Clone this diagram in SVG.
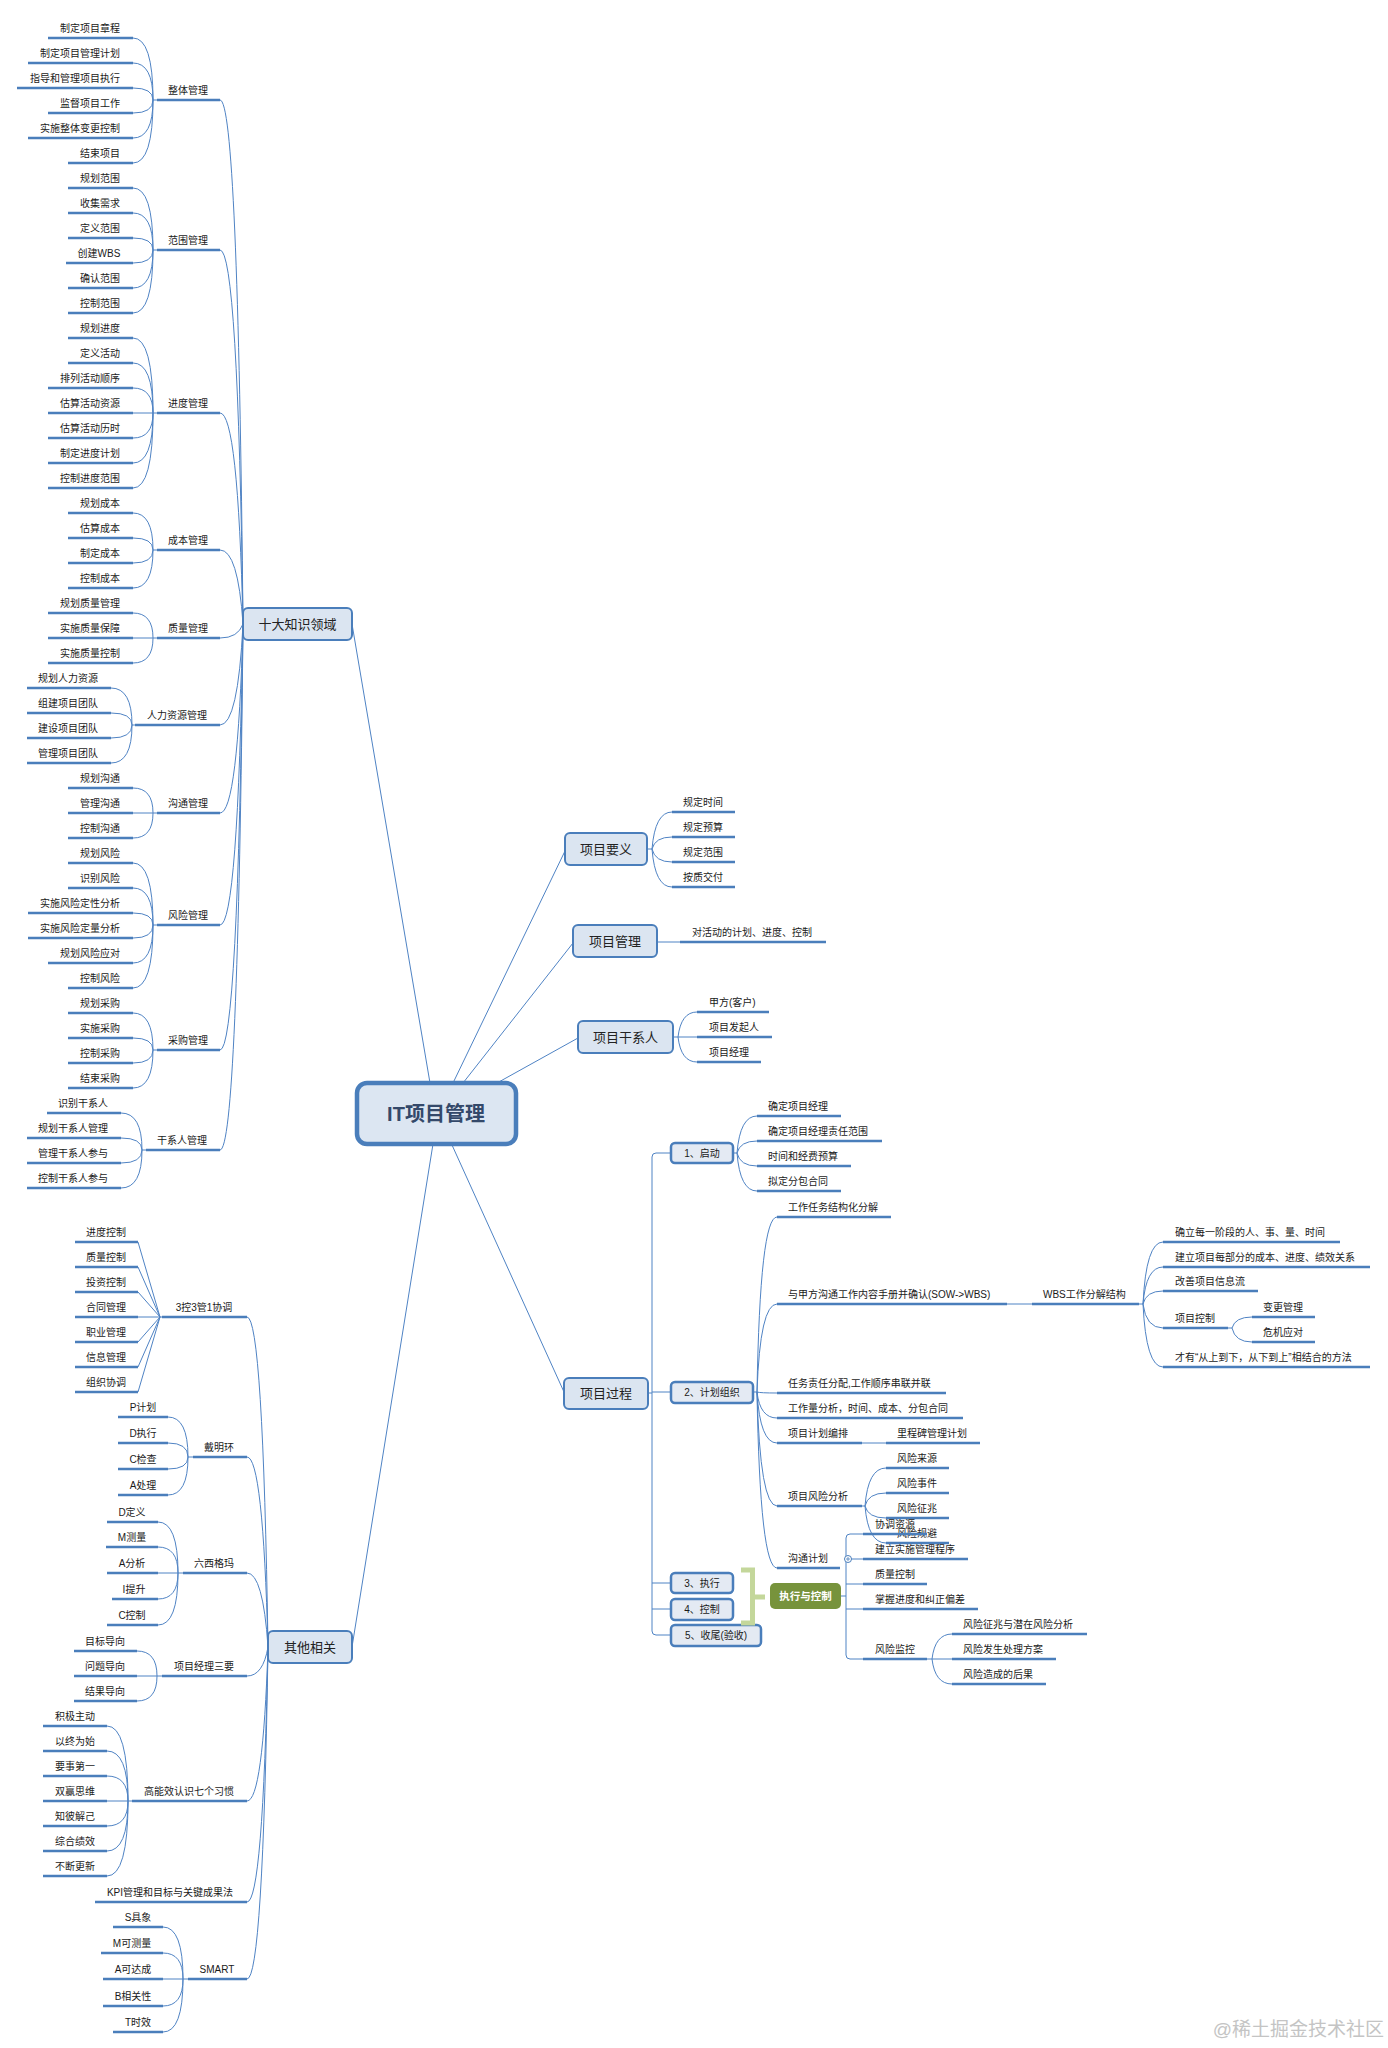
<svg xmlns="http://www.w3.org/2000/svg" width="1388" height="2048" viewBox="0 0 1388 2048">
<style>
.u{stroke:#4a7ebb;stroke-width:2.5;fill:none}
.c{stroke:#4f83c4;stroke-width:1;fill:none}
.t{font-family:"Liberation Sans","Noto Sans CJK SC",sans-serif;font-size:10px;fill:#1a1a1a}
.m{text-anchor:middle}
.bx{fill:#dbe5f1;stroke:#4a7ebb;stroke-width:2}
.sb{fill:#e4eaf3;stroke:#4a7ebb;stroke-width:2.5}
.bt{font-family:"Liberation Sans","Noto Sans CJK SC",sans-serif;font-size:13px;fill:#222;text-anchor:middle}
</style>
<rect width="1388" height="2048" fill="#ffffff"/>
<g id="connectors">
<path class="c" d="M352 624L430 1083M453 1083L565 851M463 1083L573 943M497 1083L578 1038M433 1144L352 1647M452 1145L564 1392"/>
<path class="c" d="M220 100Q238 100 243 624M220 250Q238 250 243 624M220 413Q238 413 243 624M220 550Q238 550 243 624M220 638Q238 638 243 624M220 725Q238 725 243 624M220 813Q238 813 243 624M220 925Q238 925 243 624M220 1050Q238 1050 243 624M220 1150Q238 1150 243 624"/>
<path class="c" d="M133 38Q153 38 153 100M133 63Q153 63 153 100M133 88Q153 88 153 100M133 113Q153 113 153 100M133 138Q153 138 153 100M133 163Q153 163 153 100M153 100H157"/>
<path class="c" d="M133 188Q153 188 153 250M133 213Q153 213 153 250M133 238Q153 238 153 250M133 263Q153 263 153 250M133 288Q153 288 153 250M133 313Q153 313 153 250M153 250H157"/>
<path class="c" d="M133 338Q153 338 153 413M133 363Q153 363 153 413M133 388Q153 388 153 413M133 413H157M133 438Q153 438 153 413M133 463Q153 463 153 413M133 488Q153 488 153 413"/>
<path class="c" d="M133 513Q153 513 153 550M133 538Q153 538 153 550M133 563Q153 563 153 550M133 588Q153 588 153 550M153 550H157"/>
<path class="c" d="M133 613Q153 613 153 638M133 638H157M133 663Q153 663 153 638"/>
<path class="c" d="M111 688Q132 688 132 725M111 713Q132 713 132 725M111 738Q132 738 132 725M111 763Q132 763 132 725M132 725H135"/>
<path class="c" d="M133 788Q153 788 153 813M133 813H157M133 838Q153 838 153 813"/>
<path class="c" d="M133 863Q153 863 153 925M133 888Q153 888 153 925M133 913Q153 913 153 925M133 938Q153 938 153 925M133 963Q153 963 153 925M133 988Q153 988 153 925M153 925H157"/>
<path class="c" d="M133 1013Q153 1013 153 1050M133 1038Q153 1038 153 1050M133 1063Q153 1063 153 1050M133 1088Q153 1088 153 1050M153 1050H157"/>
<path class="c" d="M121 1113Q142 1113 142 1150M121 1138Q142 1138 142 1150M121 1163Q142 1163 142 1150M121 1188Q142 1188 142 1150M142 1150H146"/>
<path class="c" d="M247 1317Q263 1317 268 1647M247 1457Q263 1457 268 1647M247 1573Q263 1573 268 1647M247 1676Q263 1676 268 1647M247 1801Q263 1801 268 1647M247 1902Q263 1902 268 1647M247 1979Q263 1979 268 1647"/>
<path class="c" d="M138 1242L160 1317M138 1267L160 1317M138 1292L160 1317M138 1317H162M138 1342L160 1317M138 1367L160 1317M138 1392L160 1317"/>
<path class="c" d="M168 1417Q188 1417 188 1457M168 1443Q188 1443 188 1457M168 1469Q188 1469 188 1457M168 1495Q188 1495 188 1457M188 1457H193"/>
<path class="c" d="M158 1522Q178 1522 178 1573M158 1547Q178 1547 178 1573M158 1573H183M158 1599Q178 1599 178 1573M158 1625Q178 1625 178 1573"/>
<path class="c" d="M137 1651Q157 1651 157 1676M137 1676H162M137 1701Q157 1701 157 1676"/>
<path class="c" d="M107 1726Q128 1726 128 1801M107 1751Q128 1751 128 1801M107 1776Q128 1776 128 1801M107 1801H132M107 1826Q128 1826 128 1801M107 1851Q128 1851 128 1801M107 1876Q128 1876 128 1801"/>
<path class="c" d="M163 1927Q183 1927 183 1979M163 1953Q183 1953 183 1979M163 1979H188M163 2006Q183 2006 183 1979M163 2032Q183 2032 183 1979"/>
<path class="c" d="M647 849H652M652 849Q655 812 672 812M652 849Q655 837 672 837M652 849Q655 862 672 862M652 849Q655 887 672 887"/>
<path class="c" d="M657 942H680"/>
<path class="c" d="M673 1037H678M678 1037Q681 1012 697 1012M678 1037H697M678 1037Q681 1062 697 1062"/>
<path class="c" d="M648 1393H652M671 1153H656Q652 1153 652 1157V1631Q652 1635 656 1635H671M652 1392H671M652 1583H671M652 1609H671"/>
<path class="c" d="M733 1153H737M737 1153Q740 1116 757 1116M737 1153Q740 1141 757 1141M737 1153Q740 1166 757 1166M737 1153Q740 1191 757 1191"/>
<path class="c" d="M753 1392H757M757 1392Q760 1217 777 1217M757 1392Q760 1304 777 1304M757 1392Q760 1393 777 1393M757 1392Q760 1418 777 1418M757 1392Q760 1443 777 1443M757 1392Q760 1506 777 1506M757 1392Q760 1568 777 1568"/>
<path class="c" d="M1007 1304H1032M862 1443H886"/>
<path class="c" d="M1139 1304H1143M1143 1304Q1146 1242 1163 1242M1143 1304Q1146 1267 1163 1267M1143 1304Q1146 1291 1163 1291M1143 1304Q1146 1328 1163 1328M1143 1304Q1146 1367 1163 1367"/>
<path class="c" d="M1228 1328H1232M1232 1328Q1235 1317 1252 1317M1232 1328Q1235 1342 1252 1342"/>
<path class="c" d="M862 1506H865M865 1506Q868 1468 886 1468M865 1506Q868 1493 886 1493M865 1506Q868 1518 886 1518M865 1506Q868 1543 886 1543"/>
<path class="c" d="M841 1596H846M863 1534H850Q846 1534 846 1538V1655Q846 1659 850 1659H863M846 1559H863M846 1584H863M846 1609H863"/>
<path class="c" d="M927 1659H932M932 1659Q935 1634 952 1634M932 1659H952M932 1659Q935 1684 952 1684"/>
</g>
<g id="root"><rect x="357" y="1083" width="159" height="61" rx="10" fill="#dce6f2" stroke="#4a7ebb" stroke-width="4.5"/><text x="436" y="1121" text-anchor="middle" font-family="Liberation Sans,Noto Sans CJK SC,sans-serif" font-size="20" font-weight="bold" fill="#34496a">IT项目管理</text></g>
<g id="n-shida"><rect class="bx" x="243" y="608" width="109" height="32" rx="5"/><text class="bt" x="297.5" y="629">十大知识领域</text></g>
<g id="n-qita"><rect class="bx" x="268" y="1631" width="84" height="32" rx="5"/><text class="bt" x="310" y="1652">其他相关</text></g>
<g id="n-yaoyi"><rect class="bx" x="565" y="833" width="82" height="32" rx="5"/><text class="bt" x="606" y="854">项目要义</text></g>
<g id="n-guanli"><rect class="bx" x="573" y="925" width="84" height="32" rx="5"/><text class="bt" x="615" y="946">项目管理</text></g>
<g id="n-ganxi"><rect class="bx" x="578" y="1021" width="95" height="32" rx="5"/><text class="bt" x="625.5" y="1042">项目干系人</text></g>
<g id="n-guocheng"><rect class="bx" x="564" y="1378" width="84" height="31" rx="5"/><text class="bt" x="606" y="1398">项目过程</text></g>
<g id="s1"><rect class="sb" x="671" y="1143" width="62" height="20" rx="4"/><text class="t m" x="702" y="1157">1、启动</text></g>
<g id="s2"><rect class="sb" x="671" y="1382" width="82" height="21" rx="4"/><text class="t m" x="712" y="1396">2、计划组织</text></g>
<g id="s3"><rect class="sb" x="671" y="1573" width="62" height="20" rx="4"/><text class="t m" x="702" y="1587">3、执行</text></g>
<g id="s4"><rect class="sb" x="671" y="1599" width="62" height="21" rx="4"/><text class="t m" x="702" y="1613">4、控制</text></g>
<g id="s5"><rect class="sb" x="671" y="1625" width="90" height="21" rx="4"/><text class="t m" x="716" y="1639">5、收尾(验收)</text></g>
<g id="bracket"><path d="M741 1570H752.5V1623H741M752.5 1597H765" fill="none" stroke="#c4d79b" stroke-width="5"/></g>
<g id="n-zxkz"><rect x="770" y="1583" width="71" height="26" rx="5" fill="#77933c"/><text x="805.5" y="1600" text-anchor="middle" font-family="Liberation Sans,Noto Sans CJK SC,sans-serif" font-size="10.5" font-weight="bold" fill="#ffffff">执行与控制</text></g>
<g id="collapse"><circle cx="848" cy="1559" r="3.5" fill="#fff" stroke="#4a7ebb" stroke-width="1"/><path d="M846 1559H850M848 1557V1561" stroke="#4a7ebb" stroke-width="0.8"/></g>

<g id="left-tree">
<g id="c-zhengti"><line class="u" x1="157" y1="100" x2="220" y2="100"/><text class="t m" x="188" y="94">整体管理</text></g>
<g><line class="u" x1="48" y1="38" x2="133" y2="38"/><text class="t m" x="90" y="32">制定项目章程</text></g>
<g><line class="u" x1="28" y1="63" x2="133" y2="63"/><text class="t m" x="80" y="57">制定项目管理计划</text></g>
<g><line class="u" x1="17" y1="88" x2="133" y2="88"/><text class="t m" x="75" y="82">指导和管理项目执行</text></g>
<g><line class="u" x1="48" y1="113" x2="133" y2="113"/><text class="t m" x="90" y="107">监督项目工作</text></g>
<g><line class="u" x1="28" y1="138" x2="133" y2="138"/><text class="t m" x="80" y="132">实施整体变更控制</text></g>
<g><line class="u" x1="68" y1="163" x2="133" y2="163"/><text class="t m" x="100" y="157">结束项目</text></g>

<g id="c-fanwei"><line class="u" x1="157" y1="250" x2="220" y2="250"/><text class="t m" x="188" y="244">范围管理</text></g>
<g><line class="u" x1="68" y1="188" x2="133" y2="188"/><text class="t m" x="100" y="182">规划范围</text></g>
<g><line class="u" x1="68" y1="213" x2="133" y2="213"/><text class="t m" x="100" y="207">收集需求</text></g>
<g><line class="u" x1="68" y1="238" x2="133" y2="238"/><text class="t m" x="100" y="232">定义范围</text></g>
<g><line class="u" x1="66" y1="263" x2="133" y2="263"/><text class="t m" x="99" y="257">创建WBS</text></g>
<g><line class="u" x1="68" y1="288" x2="133" y2="288"/><text class="t m" x="100" y="282">确认范围</text></g>
<g><line class="u" x1="68" y1="313" x2="133" y2="313"/><text class="t m" x="100" y="307">控制范围</text></g>

<g id="c-jindu"><line class="u" x1="157" y1="413" x2="220" y2="413"/><text class="t m" x="188" y="407">进度管理</text></g>
<g><line class="u" x1="68" y1="338" x2="133" y2="338"/><text class="t m" x="100" y="332">规划进度</text></g>
<g><line class="u" x1="68" y1="363" x2="133" y2="363"/><text class="t m" x="100" y="357">定义活动</text></g>
<g><line class="u" x1="48" y1="388" x2="133" y2="388"/><text class="t m" x="90" y="382">排列活动顺序</text></g>
<g><line class="u" x1="48" y1="413" x2="133" y2="413"/><text class="t m" x="90" y="407">估算活动资源</text></g>
<g><line class="u" x1="48" y1="438" x2="133" y2="438"/><text class="t m" x="90" y="432">估算活动历时</text></g>
<g><line class="u" x1="48" y1="463" x2="133" y2="463"/><text class="t m" x="90" y="457">制定进度计划</text></g>
<g><line class="u" x1="48" y1="488" x2="133" y2="488"/><text class="t m" x="90" y="482">控制进度范围</text></g>

<g id="c-chengben"><line class="u" x1="157" y1="550" x2="220" y2="550"/><text class="t m" x="188" y="544">成本管理</text></g>
<g><line class="u" x1="68" y1="513" x2="133" y2="513"/><text class="t m" x="100" y="507">规划成本</text></g>
<g><line class="u" x1="68" y1="538" x2="133" y2="538"/><text class="t m" x="100" y="532">估算成本</text></g>
<g><line class="u" x1="68" y1="563" x2="133" y2="563"/><text class="t m" x="100" y="557">制定成本</text></g>
<g><line class="u" x1="68" y1="588" x2="133" y2="588"/><text class="t m" x="100" y="582">控制成本</text></g>

<g id="c-zhiliang"><line class="u" x1="157" y1="638" x2="220" y2="638"/><text class="t m" x="188" y="632">质量管理</text></g>
<g><line class="u" x1="48" y1="613" x2="133" y2="613"/><text class="t m" x="90" y="607">规划质量管理</text></g>
<g><line class="u" x1="48" y1="638" x2="133" y2="638"/><text class="t m" x="90" y="632">实施质量保障</text></g>
<g><line class="u" x1="48" y1="663" x2="133" y2="663"/><text class="t m" x="90" y="657">实施质量控制</text></g>

<g id="c-renli"><line class="u" x1="135" y1="725" x2="220" y2="725"/><text class="t m" x="177" y="719">人力资源管理</text></g>
<g><line class="u" x1="27" y1="688" x2="111" y2="688"/><text class="t m" x="68" y="682">规划人力资源</text></g>
<g><line class="u" x1="27" y1="713" x2="111" y2="713"/><text class="t m" x="68" y="707">组建项目团队</text></g>
<g><line class="u" x1="27" y1="738" x2="111" y2="738"/><text class="t m" x="68" y="732">建设项目团队</text></g>
<g><line class="u" x1="27" y1="763" x2="111" y2="763"/><text class="t m" x="68" y="757">管理项目团队</text></g>

<g id="c-goutong"><line class="u" x1="157" y1="813" x2="220" y2="813"/><text class="t m" x="188" y="807">沟通管理</text></g>
<g><line class="u" x1="68" y1="788" x2="133" y2="788"/><text class="t m" x="100" y="782">规划沟通</text></g>
<g><line class="u" x1="68" y1="813" x2="133" y2="813"/><text class="t m" x="100" y="807">管理沟通</text></g>
<g><line class="u" x1="68" y1="838" x2="133" y2="838"/><text class="t m" x="100" y="832">控制沟通</text></g>

<g id="c-fengxian"><line class="u" x1="157" y1="925" x2="220" y2="925"/><text class="t m" x="188" y="919">风险管理</text></g>
<g><line class="u" x1="68" y1="863" x2="133" y2="863"/><text class="t m" x="100" y="857">规划风险</text></g>
<g><line class="u" x1="68" y1="888" x2="133" y2="888"/><text class="t m" x="100" y="882">识别风险</text></g>
<g><line class="u" x1="28" y1="913" x2="133" y2="913"/><text class="t m" x="80" y="907">实施风险定性分析</text></g>
<g><line class="u" x1="28" y1="938" x2="133" y2="938"/><text class="t m" x="80" y="932">实施风险定量分析</text></g>
<g><line class="u" x1="48" y1="963" x2="133" y2="963"/><text class="t m" x="90" y="957">规划风险应对</text></g>
<g><line class="u" x1="68" y1="988" x2="133" y2="988"/><text class="t m" x="100" y="982">控制风险</text></g>

<g id="c-caigou"><line class="u" x1="157" y1="1050" x2="220" y2="1050"/><text class="t m" x="188" y="1044">采购管理</text></g>
<g><line class="u" x1="68" y1="1013" x2="133" y2="1013"/><text class="t m" x="100" y="1007">规划采购</text></g>
<g><line class="u" x1="68" y1="1038" x2="133" y2="1038"/><text class="t m" x="100" y="1032">实施采购</text></g>
<g><line class="u" x1="68" y1="1063" x2="133" y2="1063"/><text class="t m" x="100" y="1057">控制采购</text></g>
<g><line class="u" x1="68" y1="1088" x2="133" y2="1088"/><text class="t m" x="100" y="1082">结束采购</text></g>

<g id="c-ganxiren"><line class="u" x1="146" y1="1150" x2="220" y2="1150"/><text class="t m" x="182" y="1144">干系人管理</text></g>
<g><line class="u" x1="47" y1="1113" x2="121" y2="1113"/><text class="t m" x="83" y="1107">识别干系人</text></g>
<g><line class="u" x1="27" y1="1138" x2="121" y2="1138"/><text class="t m" x="73" y="1132">规划干系人管理</text></g>
<g><line class="u" x1="27" y1="1163" x2="121" y2="1163"/><text class="t m" x="73" y="1157">管理干系人参与</text></g>
<g><line class="u" x1="27" y1="1188" x2="121" y2="1188"/><text class="t m" x="73" y="1182">控制干系人参与</text></g>
</g>

<g id="other-tree">
<g id="c-3k3g"><line class="u" x1="162" y1="1317" x2="247" y2="1317"/><text class="t m" x="204" y="1311">3控3管1协调</text></g>
<g><line class="u" x1="75" y1="1242" x2="138" y2="1242"/><text class="t m" x="106" y="1236">进度控制</text></g>
<g><line class="u" x1="75" y1="1267" x2="138" y2="1267"/><text class="t m" x="106" y="1261">质量控制</text></g>
<g><line class="u" x1="75" y1="1292" x2="138" y2="1292"/><text class="t m" x="106" y="1286">投资控制</text></g>
<g><line class="u" x1="75" y1="1317" x2="138" y2="1317"/><text class="t m" x="106" y="1311">合同管理</text></g>
<g><line class="u" x1="75" y1="1342" x2="138" y2="1342"/><text class="t m" x="106" y="1336">职业管理</text></g>
<g><line class="u" x1="75" y1="1367" x2="138" y2="1367"/><text class="t m" x="106" y="1361">信息管理</text></g>
<g><line class="u" x1="75" y1="1392" x2="138" y2="1392"/><text class="t m" x="106" y="1386">组织协调</text></g>

<g id="c-deming"><line class="u" x1="193" y1="1457" x2="247" y2="1457"/><text class="t m" x="219" y="1451">戴明环</text></g>
<g><line class="u" x1="118" y1="1417" x2="168" y2="1417"/><text class="t m" x="143" y="1411">P计划</text></g>
<g><line class="u" x1="118" y1="1443" x2="168" y2="1443"/><text class="t m" x="143" y="1437">D执行</text></g>
<g><line class="u" x1="118" y1="1469" x2="168" y2="1469"/><text class="t m" x="143" y="1463">C检查</text></g>
<g><line class="u" x1="118" y1="1495" x2="168" y2="1495"/><text class="t m" x="143" y="1489">A处理</text></g>

<g id="c-6sigma"><line class="u" x1="183" y1="1573" x2="247" y2="1573"/><text class="t m" x="214" y="1567">六西格玛</text></g>
<g><line class="u" x1="107" y1="1522" x2="158" y2="1522"/><text class="t m" x="132" y="1516">D定义</text></g>
<g><line class="u" x1="106" y1="1547" x2="158" y2="1547"/><text class="t m" x="132" y="1541">M测量</text></g>
<g><line class="u" x1="107" y1="1573" x2="158" y2="1573"/><text class="t m" x="132" y="1567">A分析</text></g>
<g><line class="u" x1="112" y1="1599" x2="158" y2="1599"/><text class="t m" x="134" y="1593">I提升</text></g>
<g><line class="u" x1="107" y1="1625" x2="158" y2="1625"/><text class="t m" x="132" y="1619">C控制</text></g>

<g id="c-3yao"><line class="u" x1="162" y1="1676" x2="247" y2="1676"/><text class="t m" x="204" y="1670">项目经理三要</text></g>
<g><line class="u" x1="74" y1="1651" x2="137" y2="1651"/><text class="t m" x="105" y="1645">目标导向</text></g>
<g><line class="u" x1="74" y1="1676" x2="137" y2="1676"/><text class="t m" x="105" y="1670">问题导向</text></g>
<g><line class="u" x1="74" y1="1701" x2="137" y2="1701"/><text class="t m" x="105" y="1695">结果导向</text></g>

<g id="c-7habits"><line class="u" x1="132" y1="1801" x2="247" y2="1801"/><text class="t m" x="189" y="1795">高能效认识七个习惯</text></g>
<g><line class="u" x1="43" y1="1726" x2="107" y2="1726"/><text class="t m" x="75" y="1720">积极主动</text></g>
<g><line class="u" x1="43" y1="1751" x2="107" y2="1751"/><text class="t m" x="75" y="1745">以终为始</text></g>
<g><line class="u" x1="43" y1="1776" x2="107" y2="1776"/><text class="t m" x="75" y="1770">要事第一</text></g>
<g><line class="u" x1="43" y1="1801" x2="107" y2="1801"/><text class="t m" x="75" y="1795">双赢思维</text></g>
<g><line class="u" x1="43" y1="1826" x2="107" y2="1826"/><text class="t m" x="75" y="1820">知彼解己</text></g>
<g><line class="u" x1="43" y1="1851" x2="107" y2="1851"/><text class="t m" x="75" y="1845">综合绩效</text></g>
<g><line class="u" x1="43" y1="1876" x2="107" y2="1876"/><text class="t m" x="75" y="1870">不断更新</text></g>

<g id="c-kpi"><line class="u" x1="95" y1="1902" x2="247" y2="1902"/><text class="t m" x="170" y="1896">KPI管理和目标与关键成果法</text></g>

<g id="c-smart"><line class="u" x1="188" y1="1979" x2="247" y2="1979"/><text class="t m" x="217" y="1973">SMART</text></g>
<g><line class="u" x1="113" y1="1927" x2="163" y2="1927"/><text class="t m" x="138" y="1921">S具象</text></g>
<g><line class="u" x1="101" y1="1953" x2="163" y2="1953"/><text class="t m" x="132" y="1947">M可测量</text></g>
<g><line class="u" x1="103" y1="1979" x2="163" y2="1979"/><text class="t m" x="133" y="1973">A可达成</text></g>
<g><line class="u" x1="103" y1="2006" x2="163" y2="2006"/><text class="t m" x="133" y="2000">B相关性</text></g>
<g><line class="u" x1="113" y1="2032" x2="163" y2="2032"/><text class="t m" x="138" y="2026">T时效</text></g>
</g>

<g id="right-tree">
<g><line class="u" x1="672" y1="812" x2="735" y2="812"/><text class="t" x="683" y="806">规定时间</text></g>
<g><line class="u" x1="672" y1="837" x2="735" y2="837"/><text class="t" x="683" y="831">规定预算</text></g>
<g><line class="u" x1="672" y1="862" x2="735" y2="862"/><text class="t" x="683" y="856">规定范围</text></g>
<g><line class="u" x1="672" y1="887" x2="735" y2="887"/><text class="t" x="683" y="881">按质交付</text></g>
<g><line class="u" x1="680" y1="942" x2="826" y2="942"/><text class="t" x="692" y="936">对活动的计划、进度、控制</text></g>
<g><line class="u" x1="697" y1="1012" x2="769" y2="1012"/><text class="t" x="709" y="1006">甲方(客户)</text></g>
<g><line class="u" x1="697" y1="1037" x2="772" y2="1037"/><text class="t" x="709" y="1031">项目发起人</text></g>
<g><line class="u" x1="697" y1="1062" x2="761" y2="1062"/><text class="t" x="709" y="1056">项目经理</text></g>

<g><line class="u" x1="757" y1="1116" x2="841" y2="1116"/><text class="t" x="768" y="1110">确定项目经理</text></g>
<g><line class="u" x1="757" y1="1141" x2="882" y2="1141"/><text class="t" x="768" y="1135">确定项目经理责任范围</text></g>
<g><line class="u" x1="757" y1="1166" x2="851" y2="1166"/><text class="t" x="768" y="1160">时间和经费预算</text></g>
<g><line class="u" x1="757" y1="1191" x2="841" y2="1191"/><text class="t" x="768" y="1185">拟定分包合同</text></g>

<g><line class="u" x1="777" y1="1217" x2="891" y2="1217"/><text class="t" x="788" y="1211">工作任务结构化分解</text></g>
<g><line class="u" x1="777" y1="1304" x2="1007" y2="1304"/><text class="t" x="788" y="1298">与甲方沟通工作内容手册并确认(SOW-&gt;WBS)</text></g>
<g id="wbs"><line class="u" x1="1032" y1="1304" x2="1139" y2="1304"/><text class="t" x="1043" y="1298">WBS工作分解结构</text></g>
<g><line class="u" x1="1163" y1="1242" x2="1340" y2="1242"/><text class="t" x="1175" y="1236">确立每一阶段的人、事、量、时间</text></g>
<g><line class="u" x1="1163" y1="1267" x2="1370" y2="1267"/><text class="t" x="1175" y="1261">建立项目每部分的成本、进度、绩效关系</text></g>
<g><line class="u" x1="1163" y1="1291" x2="1258" y2="1291"/><text class="t" x="1175" y="1285">改善项目信息流</text></g>
<g><line class="u" x1="1163" y1="1328" x2="1228" y2="1328"/><text class="t" x="1175" y="1322">项目控制</text></g>
<g><line class="u" x1="1252" y1="1317" x2="1315" y2="1317"/><text class="t" x="1263" y="1311">变更管理</text></g>
<g><line class="u" x1="1252" y1="1342" x2="1315" y2="1342"/><text class="t" x="1263" y="1336">危机应对</text></g>
<g><line class="u" x1="1163" y1="1367" x2="1370" y2="1367"/><text class="t" x="1175" y="1361">才有“从上到下，从下到上”相结合的方法</text></g>
<g><line class="u" x1="777" y1="1393" x2="946" y2="1393"/><text class="t" x="788" y="1387">任务责任分配,工作顺序串联并联</text></g>
<g><line class="u" x1="777" y1="1418" x2="963" y2="1418"/><text class="t" x="788" y="1412">工作量分析，时间、成本、分包合同</text></g>
<g><line class="u" x1="777" y1="1443" x2="862" y2="1443"/><text class="t" x="788" y="1437">项目计划编排</text></g>
<g><line class="u" x1="886" y1="1443" x2="980" y2="1443"/><text class="t" x="897" y="1437">里程碑管理计划</text></g>
<g><line class="u" x1="777" y1="1506" x2="862" y2="1506"/><text class="t" x="788" y="1500">项目风险分析</text></g>
<g><line class="u" x1="886" y1="1468" x2="949" y2="1468"/><text class="t" x="897" y="1462">风险来源</text></g>
<g><line class="u" x1="886" y1="1493" x2="949" y2="1493"/><text class="t" x="897" y="1487">风险事件</text></g>
<g><line class="u" x1="886" y1="1518" x2="949" y2="1518"/><text class="t" x="897" y="1512">风险征兆</text></g>
<g><line class="u" x1="886" y1="1543" x2="949" y2="1543"/><text class="t" x="897" y="1537">风险规避</text></g>
<g><line class="u" x1="777" y1="1568" x2="840" y2="1568"/><text class="t" x="788" y="1562">沟通计划</text></g>

<g><line class="u" x1="863" y1="1534" x2="927" y2="1534"/><text class="t" x="875" y="1528">协调资源</text></g>
<g><line class="u" x1="863" y1="1559" x2="968" y2="1559"/><text class="t" x="875" y="1553">建立实施管理程序</text></g>
<g><line class="u" x1="863" y1="1584" x2="927" y2="1584"/><text class="t" x="875" y="1578">质量控制</text></g>
<g><line class="u" x1="863" y1="1609" x2="978" y2="1609"/><text class="t" x="875" y="1603">掌握进度和纠正偏差</text></g>
<g><line class="u" x1="863" y1="1659" x2="927" y2="1659"/><text class="t" x="875" y="1653">风险监控</text></g>
<g><line class="u" x1="952" y1="1634" x2="1087" y2="1634"/><text class="t" x="963" y="1628">风险征兆与潜在风险分析</text></g>
<g><line class="u" x1="952" y1="1659" x2="1056" y2="1659"/><text class="t" x="963" y="1653">风险发生处理方案</text></g>
<g><line class="u" x1="952" y1="1684" x2="1046" y2="1684"/><text class="t" x="963" y="1678">风险造成的后果</text></g>
</g>
<text x="1384" y="2036" text-anchor="end" font-family="Liberation Sans,Noto Sans CJK SC,sans-serif" font-size="19" fill="#c4c4c4">@稀土掘金技术社区</text>
</svg>
